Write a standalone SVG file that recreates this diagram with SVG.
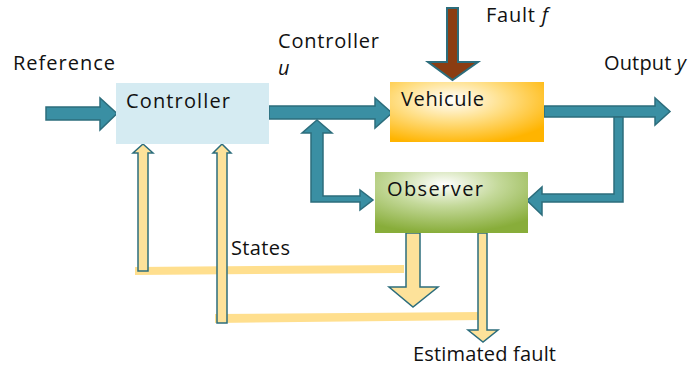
<svg xmlns="http://www.w3.org/2000/svg" width="691" height="367" viewBox="0 0 691 367">
<defs>
<radialGradient id="gOrange" cx="0.4" cy="0.3" r="0.75">
<stop offset="0" stop-color="#ffffff"/>
<stop offset="0.45" stop-color="#ffe08a"/>
<stop offset="1" stop-color="#ffb400"/>
</radialGradient>
<radialGradient id="gGreen" cx="0.45" cy="0.2" r="0.8">
<stop offset="0" stop-color="#ffffff"/>
<stop offset="0.45" stop-color="#c4d99a"/>
<stop offset="1" stop-color="#88ad3a"/>
</radialGradient>
<style>
.lbl{font-family:"Open Sans","Lato","Liberation Sans",sans-serif;font-size:20px;fill:#111}
.it{font-style:italic}
.teal{fill:#3a8fa3;stroke:#2c6d7c;stroke-width:1.5;stroke-linejoin:miter}
.yel{fill:#fde29a;stroke:#2c6d7c;stroke-width:1.5}
.band{fill:#ffdf8e}
.brown{fill:#8b3d12;stroke:#2c6d7c;stroke-width:2}
</style>
</defs>

<g id="connectors">
<!-- Reference -> Controller -->
<polygon class="teal" points="46,107 100,107 100,98 117,113.5 100,130 100,120 46,120"/>
<!-- Controller -> Vehicule -->
<polygon class="teal" points="269,106 375,106 375,98 392,113 375,128 375,119 269,119"/>
<!-- branch: up arrow and to Observer -->
<polygon class="teal" points="317,120 332,133 323,133 323,196 360,196 360,190 373,200 360,210 360,202 311,202 311,133 302,133"/>
<!-- Fault -->
<polygon class="brown" points="447,8 458,8 458,62 478,62 452.5,80 428,62 447,62"/>
<!-- Output -->
<polygon class="teal" points="544,106 655,106 655,98 670,111.5 655,125 655,117 544,117"/>
<!-- Output feedback to Observer -->
<polygon class="teal" points="614,117 623,117 623,202 542,202 542,215 527,200.5 542,187 542,194 614,194"/>
<!-- yellow bands -->
<polygon class="band" points="135,267 404,265 404,273 135,275"/>
<polygon class="band" points="215,314 483,312 483,320 215,323"/>
<!-- States arrows to Controller -->
<polygon class="yel" points="143,144 153,153 148,153 148,271 138,271 138,153 133,153"/>
<polygon class="yel" points="222,144 231,153 227,153 227,323 217,323 217,153 213,153"/>
<!-- Observer down arrows -->
<polygon class="yel" points="406,233 420,233 420,287 438,287 413,307 389,287 406,287"/>
<polygon class="yel" points="478,233 487,233 487,330 498,330 483,342 468,330 478,330"/>
</g>

<g id="controller">
<rect x="116" y="83" width="153" height="61" fill="#d5ebf2"/>
<text class="lbl" x="126" y="108" textLength="104">Controller</text>
</g>
<g id="vehicule">
<rect x="390" y="82" width="154" height="60" fill="url(#gOrange)"/>
<text class="lbl" x="401" y="106" textLength="83">Vehicule</text>
</g>
<g id="observer">
<rect x="375" y="172" width="153" height="61" fill="url(#gGreen)"/>
<text class="lbl" x="387" y="196" textLength="96">Observer</text>
</g>

<g id="labels">
<text class="lbl" x="13" y="70" textLength="102">Reference</text>
<text class="lbl" x="278" y="48" textLength="101">Controller</text>
<text class="lbl it" x="278" y="75">u</text>
<text class="lbl" x="486" y="22" textLength="62">Fault <tspan class="it">f</tspan></text>
<text class="lbl" x="604" y="70" textLength="82">Output <tspan class="it">y</tspan></text>
<text class="lbl" x="231" y="255" textLength="59">States</text>
<text class="lbl" x="413" y="361" textLength="143">Estimated fault</text>
</g>
</svg>
